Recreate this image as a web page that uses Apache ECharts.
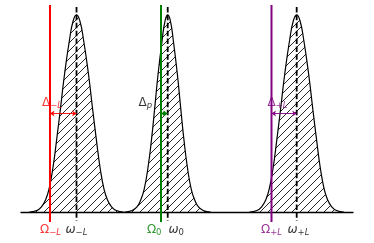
<!DOCTYPE html>
<html>
<head>
<meta charset="utf-8">
<script src="https://cdn.jsdelivr.net/npm/echarts@6/dist/echarts.min.js"></script>
<style>
html,body{margin:0;padding:0;background:#fff;}
#chart{width:374px;height:243px;}
</style>
</head>
<body>
<div id="chart"></div>
<script>
// ---- data (x in arbitrary frequency units, y normalised intensity) ----
const omegaCenters = [16.72, 44.19, 83.04];          // ω_{-L}, ω_0, ω_{+L}
const laserLines   = [8.73, 42.17, 75.45];           // Ω_{-L}, Ω_0, Ω_{+L}
const laserColors  = ['#ff0000', '#008000', '#800080'];
const profileHeights = [1, 0.97, 0.875, 0.70, 0.53, 0.365, 0.225, 0.115, 0.063, 0.028, 0.008, 0];
const sideOffsets    = [0, 1.0, 2.1, 3.6, 4.8, 6.0, 7.1, 8.3, 9.3, 10.5, 12.0, 14.2];
const centerOffsets  = [0, 0.8, 1.65, 2.9, 3.9, 4.9, 5.95, 7.1, 8.1, 9.2, 10.7, 12.95];
const peakOffsets = [sideOffsets, centerOffsets, sideOffsets];
const arrowLevel = 0.5;
const deltaLabelPos = [[6.17, 0.553], [35.24, 0.553], [74.1, 0.553]];
const deltaLabels = ['{M|Δ}{S|−}{SI|L}', '{M|Δ}{SI|p}', '{M|Δ}{S|+}{SI|L}'];
const deltaColors = ['#ff0000', '#000000', '#800080'];
const bottomY = -0.091;
const omegaLabels = ['{M|Ω}{S|−}{SI|L}', '{M|Ω}{S|0}', '{M|Ω}{S|+}{SI|L}'];
const wLabels = ['{MI|ω}{S|−}{SI|L}', '{MI|ω}{S|0}', '{MI|ω}{S|+}{SI|L}'];
const omegaLabelX = [8.89, 42.47, 75.45];
const wLabelX = [16.72, 44.28, 83.58];
const omegaLabelPos = ['inside', 'left', 'inside'];
const wLabelPos = ['inside', 'right', 'inside'];

// hatch pattern
const hatch = document.createElement('canvas');
hatch.width = 8; hatch.height = 8;
(function(){
  const c = hatch.getContext('2d');
  c.strokeStyle = '#000';
  c.lineWidth = 0.85;
  c.beginPath();
  c.moveTo(-1, 9); c.lineTo(9, -1);
  c.moveTo(-1, 1); c.lineTo(1, -1);
  c.moveTo(7, 9); c.lineTo(9, 7);
  c.stroke();
})();

function peakData(center, offs) {
  const pts = [];
  for (let i = offs.length - 1; i >= 1; i--) pts.push([center - offs[i], profileHeights[i]]);
  pts.push([center, profileHeights[0]]);
  for (let i = 1; i < offs.length; i++) pts.push([center + offs[i], profileHeights[i]]);
  return pts;
}

const FONT = 'DejaVu Sans';
const rich = {
  M:  {fontFamily: FONT, fontSize: 12, lineHeight: 14},
  MI: {fontFamily: FONT, fontSize: 12, fontStyle: 'italic', lineHeight: 14},
  S:  {fontFamily: FONT, fontSize: 8.5, lineHeight: 8, verticalAlign: 'bottom'},
  SI: {fontFamily: FONT, fontSize: 8.5, fontStyle: 'italic', lineHeight: 8, verticalAlign: 'bottom'}
};

const series = [];
omegaCenters.forEach((c, i) => {
  series.push({
    type: 'line', data: peakData(c, peakOffsets[i]), smooth: 0.5,
    symbol: 'none', z: 2,
    lineStyle: {color: '#000', width: 1.2},
    areaStyle: {color: {image: hatch, repeat: 'repeat'}, opacity: 1}
  });
});
laserLines.forEach((x, i) => {
  series.push({
    type: 'line', data: [[x, -0.05], [x, 1.05]], symbol: 'none', z: 3,
    lineStyle: {color: laserColors[i], width: 2}
  });
});
omegaCenters.forEach((x) => {
  series.push({
    type: 'line', data: [[x, 1.04], [x, -0.044]], symbol: 'none', z: 4,
    lineStyle: {color: '#000', width: 1.8, type: [5.5, 2.4]}
  });
});
series.push({
  type: 'line', data: [], z: 5,
  markLine: {
    silent: true, symbol: ['arrow', 'arrow'], symbolSize: 4.5,
    label: {show: false},
    data: laserLines.map((x, i) => [
      {coord: [x, arrowLevel], lineStyle: {color: laserColors[i], width: 0.9, type: 'solid'}, itemStyle: {color: laserColors[i]}},
      {coord: [omegaCenters[i], arrowLevel]}
    ])
  }
});
const labelItems = [];
for (let i = 0; i < 3; i++) {
  labelItems.push({value: [omegaLabelX[i], bottomY], label: {formatter: omegaLabels[i], color: laserColors[i], position: omegaLabelPos[i], distance: 0}});
  labelItems.push({value: [wLabelX[i], bottomY], label: {formatter: wLabels[i], color: '#000', position: wLabelPos[i], distance: 0}});
  labelItems.push({value: deltaLabelPos[i], label: {formatter: deltaLabels[i], color: deltaColors[i], position: 'right', distance: 0}});
}
series.push({
  type: 'scatter', data: labelItems, symbolSize: 1, clip: false, z: 6,
  itemStyle: {color: 'transparent'},
  label: {show: true, rich: rich}
});

const chart = echarts.init(document.getElementById('chart'), null, {renderer: 'canvas'});
chart.setOption({
  animation: false,
  grid: {left: 21, right: 21, top: 5, bottom: 21},
  xAxis: {
    type: 'value', min: 0, max: 100,
    axisLine: {show: true, onZero: true, lineStyle: {color: '#000', width: 1.3}},
    axisTick: {show: false}, axisLabel: {show: false}, splitLine: {show: false}
  },
  yAxis: {type: 'value', min: -0.05, max: 1.05, show: false},
  series: series
});
</script>
</body>
</html>
